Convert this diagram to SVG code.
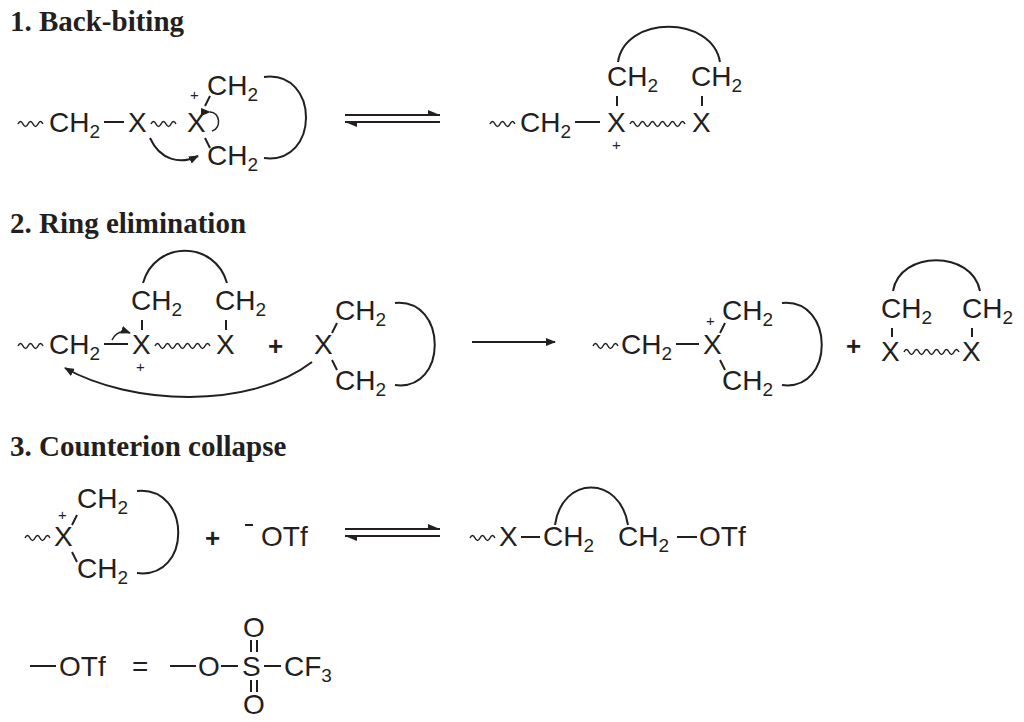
<svg xmlns="http://www.w3.org/2000/svg" width="1024" height="722" viewBox="0 0 1024 722">
<style>
text{font-family:"Liberation Sans",Arial,sans-serif;font-size:28px;fill:#231f20}
.t{font-family:"Liberation Serif","Times New Roman",serif;font-weight:bold;font-size:29px}
.s{font-size:19px}
.p{font-size:15px}
.pl{font-size:26px;font-weight:bold}
path,line{stroke:#231f20;stroke-width:2;fill:none}
.w{stroke-width:1.5}
</style>
<defs>
<marker id="a" markerWidth="10" markerHeight="8" refX="9" refY="4" orient="auto" markerUnits="userSpaceOnUse"><path d="M0,0 L10,4 L0,8 Z" style="fill:#231f20;stroke:none"/></marker>
<marker id="h" markerWidth="12" markerHeight="6" refX="12" refY="6" orient="auto" markerUnits="userSpaceOnUse"><path d="M0,1 L12,6 L0,6 Z" style="fill:#231f20;stroke:none"/></marker>
</defs>
<text class="t" x="10" y="31">1. Back-biting</text>
<text class="t" x="10" y="233">2. Ring elimination</text>
<text class="t" x="10" y="456">3. Counterion collapse</text>

<!-- 1 left -->
<path class="w" d="M18,124 q2.5,-5 5,0 t5,0 t5,0 t5,0 t5,0"/>
<text x="49" y="132">CH<tspan class="s" dy="6">2</tspan></text>
<line x1="104" y1="122" x2="124" y2="122"/>
<text x="128" y="132">X</text>
<path class="w" d="M151,124 q2.5,-5 5,0 t5,0 t5,0 t5,0 t5,0"/>
<text x="187" y="132">X</text>
<text class="p" x="190" y="100">+</text>
<line x1="205" y1="106" x2="210" y2="96"/>
<line x1="205" y1="138" x2="210" y2="148"/>
<text x="207" y="95">CH<tspan class="s" dy="6">2</tspan></text>
<text x="207" y="165">CH<tspan class="s" dy="6">2</tspan></text>
<path d="M264,77 C320,70 320,165 264,158"/>
<path d="M150,138 C160,160 180,165 198,156" marker-end="url(#a)"/>
<path d="M210,112 C220,112 222,128 212,131" marker-start="url(#a)" class="w"/>
<line x1="345" y1="115" x2="440" y2="115" marker-end="url(#h)"/>
<line x1="440" y1="122" x2="345" y2="122" marker-end="url(#h)"/>

<!-- 1 right -->
<path class="w" d="M490,124 q2.5,-5 5,0 t5,0 t5,0 t5,0 t5,0"/>
<text x="520" y="132">CH<tspan class="s" dy="6">2</tspan></text>
<line x1="575" y1="122" x2="600" y2="122"/>
<text x="607" y="132">X</text>
<text class="p" x="612" y="150">+</text>
<path class="w" d="M630,124 q2.5,-5 5,0 t5,0 t5,0 t5,0 t5,0 t5,0 t5,0 t5,0 t5,0 t5,0 t5,0"/>
<text x="692" y="132">X</text>
<text x="607" y="86">CH<tspan class="s" dy="6">2</tspan></text>
<text x="691" y="86">CH<tspan class="s" dy="6">2</tspan></text>
<line x1="617" y1="96" x2="617" y2="106"/>
<line x1="702" y1="96" x2="702" y2="106"/>
<path d="M618,62 C625,15 712,15 720,62"/>

<!-- 2 left -->
<path class="w" d="M18,346 q2.5,-5 5,0 t5,0 t5,0 t5,0 t5,0"/>
<text x="49" y="354">CH<tspan class="s" dy="6">2</tspan></text>
<line x1="104" y1="344" x2="128" y2="344"/>
<text x="132" y="354">X</text>
<text class="p" x="136" y="372">+</text>
<path class="w" d="M155,346 q2.5,-5 5,0 t5,0 t5,0 t5,0 t5,0 t5,0 t5,0 t5,0 t5,0 t5,0 t5,0"/>
<text x="216" y="354">X</text>
<text x="131" y="310">CH<tspan class="s" dy="6">2</tspan></text>
<text x="215" y="310">CH<tspan class="s" dy="6">2</tspan></text>
<line x1="142" y1="320" x2="142" y2="330"/>
<line x1="226" y1="320" x2="226" y2="330"/>
<path d="M143,283 C155,240 215,240 227,283"/>
<path d="M112,340 C116,332 122,330 130,333" marker-end="url(#a)" class="w"/>
<text class="pl" x="268" y="355">+</text>
<text x="314" y="354">X</text>
<line x1="332" y1="333" x2="337" y2="323"/>
<line x1="332" y1="360" x2="337" y2="370"/>
<text x="335" y="320">CH<tspan class="s" dy="6">2</tspan></text>
<text x="335" y="390">CH<tspan class="s" dy="6">2</tspan></text>
<path d="M395,303 C448,298 448,392 395,385"/>
<path d="M312,362 C250,410 130,405 65,368" marker-end="url(#a)"/>
<line x1="472" y1="342" x2="555" y2="342" marker-end="url(#a)"/>

<!-- 2 right -->
<path class="w" d="M593,346 q2.5,-5 5,0 t5,0 t5,0 t5,0 t5,0"/>
<text x="621" y="354">CH<tspan class="s" dy="6">2</tspan></text>
<line x1="676" y1="344" x2="699" y2="344"/>
<text x="703" y="354">X</text>
<text class="p" x="706" y="326">+</text>
<line x1="720" y1="333" x2="725" y2="323"/>
<line x1="720" y1="360" x2="725" y2="370"/>
<text x="722" y="320">CH<tspan class="s" dy="6">2</tspan></text>
<text x="722" y="390">CH<tspan class="s" dy="6">2</tspan></text>
<path d="M782,303 C835,298 835,392 782,385"/>
<text class="pl" x="846" y="355">+</text>
<text x="881" y="318">CH<tspan class="s" dy="6">2</tspan></text>
<text x="962" y="318">CH<tspan class="s" dy="6">2</tspan></text>
<line x1="892" y1="328" x2="892" y2="337"/>
<line x1="972" y1="328" x2="972" y2="337"/>
<text x="881" y="361">X</text>
<path class="w" d="M904,352 q2.5,-5 5,0 t5,0 t5,0 t5,0 t5,0 t5,0 t5,0 t5,0 t5,0 t5,0 t5,0"/>
<text x="962" y="361">X</text>
<path d="M893,291 C900,250 972,250 980,291"/>

<!-- 3 -->
<path class="w" d="M25,538 q2.5,-5 5,0 t5,0 t5,0 t5,0 t5,0"/>
<text x="54" y="546">X</text>
<text class="p" x="58" y="520">+</text>
<line x1="72" y1="525" x2="77" y2="515"/>
<line x1="72" y1="552" x2="77" y2="562"/>
<text x="77" y="508">CH<tspan class="s" dy="6">2</tspan></text>
<text x="77" y="578">CH<tspan class="s" dy="6">2</tspan></text>
<path d="M137,491 C192,486 192,580 137,573"/>
<text class="pl" x="205" y="547">+</text>
<line x1="245" y1="525" x2="253" y2="525"/>
<text x="261" y="546">OTf</text>
<line x1="345" y1="529" x2="440" y2="529" marker-end="url(#h)"/>
<line x1="440" y1="536" x2="345" y2="536" marker-end="url(#h)"/>
<path class="w" d="M470,538 q2.5,-5 5,0 t5,0 t5,0 t5,0 t5,0"/>
<text x="499" y="546">X</text>
<line x1="521" y1="537" x2="540" y2="537"/>
<text x="543" y="546">CH<tspan class="s" dy="6">2</tspan></text>
<text x="618" y="546">CH<tspan class="s" dy="6">2</tspan></text>
<line x1="677" y1="537" x2="697" y2="537"/>
<text x="699" y="546">OTf</text>
<path d="M555,525 C562,475 620,475 628,525"/>

<!-- OTf def -->
<line x1="30" y1="666" x2="56" y2="666"/>
<text x="59" y="676">OTf</text>
<text x="132" y="676">=</text>
<line x1="170" y1="666" x2="196" y2="666"/>
<text x="198" y="676">O</text>
<line x1="221" y1="666" x2="238" y2="666"/>
<text x="242" y="676">S</text>
<line x1="264" y1="666" x2="281" y2="666"/>
<text x="284" y="676">CF<tspan class="s" dy="6">3</tspan></text>
<text x="243" y="637">O</text>
<text x="243" y="714">O</text>
<line x1="251" y1="640" x2="251" y2="652"/><line x1="257" y1="640" x2="257" y2="652"/>
<line x1="251" y1="680" x2="251" y2="692"/><line x1="257" y1="680" x2="257" y2="692"/>
</svg>
